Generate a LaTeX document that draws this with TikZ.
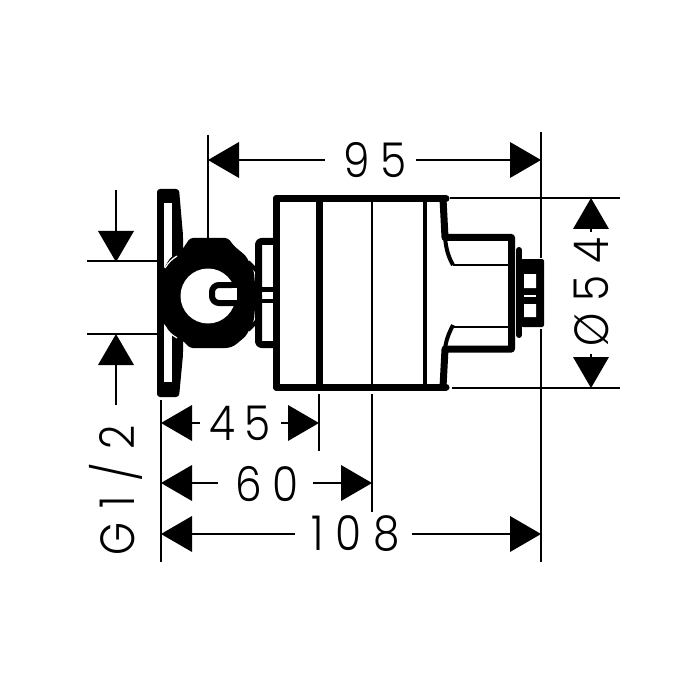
\documentclass[tikz,border=0pt]{standalone}
\usepackage{fontspec}
\setmainfont{Poppins}[UprightFont=* Light,FakeStretch=0.88]
\newcommand{\dimtext}{\fontsize{48}{48}\selectfont}
\tikzset{
  dimline/.style={line width=2pt,black},
  head/.style={fill=black,draw=none},
  heavy/.style={line width=7pt,black,line join=round,line cap=round},
  mid/.style={line width=4pt,black,line join=round},
  thin part/.style={line width=2.2pt,black},
  label/.style={font=\dimtext,inner sep=0pt,text=black}
}
\newcommand{\headL}[2]{\fill[head] (#1,#2) -- ++(31,-18) -- ++(0,36) -- cycle;}
\newcommand{\headR}[2]{\fill[head] (#1,#2) -- ++(-31,-18) -- ++(0,36) -- cycle;}
\newcommand{\headU}[2]{\fill[head] (#1,#2) -- ++(-18,31) -- ++(36,0) -- cycle;}
\newcommand{\headD}[2]{\fill[head] (#1,#2) -- ++(-18,-31) -- ++(36,0) -- cycle;}
\begin{document}
\begin{tikzpicture}[x=1pt,y=-1pt]
\useasboundingbox (0,0) rectangle (700,700);
\fill[white] (0,0) rectangle (700,700);
% extension lines
\draw[dimline] (208,135) -- (208,240);
\draw[dimline] (541,132) -- (541,258) (541,329) -- (541,562);
\draw[dimline] (450,198) -- (620,198) (452,388) -- (620,388);
\draw[dimline] (87,261) -- (172,261) (87,334) -- (172,334);
\draw[dimline] (161,400) -- (161,562);
\draw[dimline] (319,394) -- (319,451);
\draw[dimline] (372,394) -- (372,512);
% dimension 95
\draw[dimline] (235,160) -- (325,160) (416,160) -- (515,160);
\headL{208}{160}\headR{541}{160}
\node[label] (t95) at (375,160) {9\hspace{10pt}5};
% dimension 54
\draw[dimline] (591,225) -- (591,232) (591,354) -- (591,360);
\headU{591}{198}\headD{591}{388}
\node[label,rotate=90] (t54) at (591,292) {Ø\hspace{12pt}5\hspace{12pt}4};
% G1/2
\draw[dimline] (116,190) -- (116,235) (116,360) -- (116,405);
\headD{116}{262}\headU{116}{334}
\node[label,rotate=90] (tg) at (116,490) {G\hspace{14pt}1\hspace{14pt}/\hspace{14pt}2};
% 45
\draw[dimline] (185,423) -- (200,423) (281,423) -- (295,423);
\headL{161}{423}\headR{319}{423}
\node[label] (t45) at (240,423) {4\hspace{10pt}5};
% 60
\draw[dimline] (185,483) -- (218,483) (313,483) -- (345,483);
\headL{161}{483}\headR{372}{483}
\node[label] (t60) at (267,484) {6\hspace{10pt}0};
% 108
\draw[dimline] (185,534) -- (295,534) (412,534) -- (515,534);
\headL{161}{534}\headR{541}{534}
\node[label] (t108) at (356,534) {1\hspace{12pt}0\hspace{12pt}8};
% body
\draw[heavy] (276.5,198.5) rectangle (319,387);
\draw[heavy] (276.5,198.5) -- (446,198.5) (276.5,387) -- (446,387);
\draw[thin part] (372,198) -- (372,387);
\draw[line width=4.5pt] (425,198) -- (425,387);
% right cap and neck
\draw[heavy] (443,198.5) -- (445,237.5) -- (511.5,237.5) -- (511.5,349) -- (445,349) -- (443,387);
\draw[thin part] (453,265) -- (510,265) (453,327) -- (510,327);
\draw[mid] (445,237) .. controls (446,250) and (449,258) .. (453,265);
\draw[mid] (445,349) .. controls (446,340) and (449,333) .. (453,325);
% end nut
\draw[line width=6pt,line cap=round] (519,250) -- (519,335);
\fill[black,rounded corners=2pt] (521,259) rectangle (544,327);
\fill[white] (524,274) rectangle (536,288) (524,304) rectangle (536,317);
\draw[white,line width=1.4pt] (524,296) -- (536,296);
% escutcheon plate
\fill[black,rounded corners=3pt] (157,189) -- (179,189) -- (183,235) -- (183,355) -- (179,397) -- (157,397) -- cycle;
\fill[white] (164,203) -- (172,203) -- (172,382) -- (164,382) -- cycle;
% side fitting
\draw[line width=7pt,line join=round,rounded corners=3pt] (276,241.5) -- (258.5,241.5) -- (258.5,344.5) -- (276,344.5);
\fill[black] (252,287) rectangle (279,292);
\fill[black] (252,299) rectangle (279,303);
\draw[white,line width=1.5pt] (262,294) -- (272,294);
\draw[mid] (248,262) -- (258,272) (248,330) -- (258,320);
% valve nut
\fill[black,rounded corners=3pt] (190,238) -- (228,238) -- (234,246) -- (246,256) -- (254,272) -- (256,296) -- (254,320) -- (246,336) -- (234,346) -- (228,348) -- (190,348) -- (182,340) -- (170,334) -- (162,320) -- (160,296) -- (162,272) -- (170,258) -- (182,250) -- cycle;
\draw[white,line width=1.2pt] (165,268) .. controls (168,263) and (172,259) .. (177,256);
\draw[white,line width=1.2pt] (165,326) .. controls (168,332) and (172,335) .. (177,338);
\fill[white] (208,296) circle (27.5);
\draw[line width=6pt,line cap=butt,rounded corners=7pt] (237,285) -- (212,285) -- (212,303) -- (237,303);
\fill[white] (232,288) rectangle (236.5,300);
\end{tikzpicture}
\end{document}
